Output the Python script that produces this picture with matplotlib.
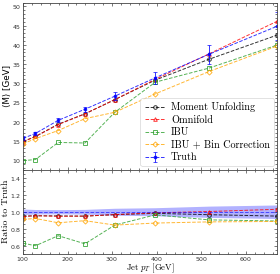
import matplotlib
matplotlib.use("Agg")
import matplotlib.pyplot as plt
import numpy as np
from matplotlib.ticker import AutoMinorLocator, MultipleLocator

plt.rcParams['mathtext.fontset'] = 'cm'
plt.rcParams['axes.formatter.use_mathtext'] = True

# ---- data ----
pt = [100, 128, 179, 239, 306, 397, 517, 670]
truth = [15.6, 16.9, 20.3, 23.2, 26.6, 31.4, 37.5, 44.8]
truth_err = [0.5, 0.45, 0.5, 0.65, 1.1, 1.5, 2.5, 3.6]
moment_unfolding = [14.8, 16.1, 19.3, 22.0, 25.7, 30.8, 36.2, 42.5]
omnifold = [14.7, 16.1, 19.2, 22.0, 25.7, 31.0, 37.6, 46.1]
ibu = [9.8, 10.1, 14.55, 14.4, 22.4, 30.25, 33.9, 39.9]
ibu_bc = [14.2, 15.55, 17.65, 20.75, 22.4, 27.2, 33.0, 39.65]

labels = ["Moment Unfolding", "Omnifold", "IBU", "IBU + Bin Correction", "Truth"]
colors = ["black", "red", "tab:green", "orange", "blue"]
markers = ["o", "^", "s", "D"]

x = np.array(pt)
t = np.array(truth)
te = np.array(truth_err)
series = [moment_unfolding, omnifold, ibu, ibu_bc]

fig = plt.figure(figsize=(2.8, 2.74), dpi=100)
L, R = 23/280, 277/280
top, mid, bot = 1-2.5/274, 1-169.5/274, 1-254/274
ax = fig.add_axes([L, mid, R-L, top-mid])
axr = fig.add_axes([L, bot, R-L, mid-bot], sharex=ax)

serif = 'cmr10'
handles = []
for vals, lab, c, m in zip(series, labels[:4], colors[:4], markers):
    h, = ax.plot(x, vals, ls='--', color=c, lw=0.7, marker=m, ms=2.6,
                 mfc='none', mew=0.7, label=lab, alpha=0.8)
    handles.append(h)
    axr.plot(x, np.array(vals)/t, ls='--', color=c, lw=0.7, marker=m, ms=2.6,
             mfc='none', mew=0.7, alpha=0.8)
eb = ax.errorbar(x, t, yerr=te, ls='--', color='blue', lw=0.7, marker='s', ms=2.0,
                 elinewidth=0.7, capsize=1.2, capthick=0.6, label=labels[4], alpha=0.8)
handles.append(eb)

axr.fill_between(x, 1 - te/t, 1 + te/t, color='blue', alpha=0.3, lw=0)
axr.plot(x, t/t, ls='--', color='blue', lw=0.7, alpha=0.6)

ax.set_xlim(100, 670)
ax.set_ylim(7.5, 51)
axr.set_ylim(0.5, 1.5)
ax.yaxis.set_major_locator(MultipleLocator(5))
axr.set_yticks([0.6, 0.8, 1.0, 1.2, 1.4])
axr.xaxis.set_major_locator(MultipleLocator(100))

for a in (ax, axr):
    a.xaxis.set_minor_locator(AutoMinorLocator())
    a.yaxis.set_minor_locator(AutoMinorLocator())
    a.tick_params(which='both', direction='in', top=True, right=True,
                  labelsize=4.5, labelcolor='#333333', color='#444444', width=0.5,
                  pad=1.2)
    a.tick_params(which='major', length=2.5)
    a.tick_params(which='minor', length=1.3)
    for s in a.spines.values():
        s.set_linewidth(0.6)
        s.set_color('#444444')
axr.tick_params(axis='x', which='both', pad=0.6)
plt.setp(ax.get_xticklabels(), visible=False)

ax.set_ylabel("\u27e8M\u27e9 [GeV]", fontsize=6.3, family='DejaVu Sans')
axr.set_ylabel("Ratio to Truth", fontsize=7.0, family=serif)
axr.set_xlabel(r"Jet $p_T$ [GeV]", fontsize=6.2, family=serif)
ax.yaxis.set_label_coords(-0.045, 0.5)
axr.yaxis.set_label_coords(-0.052, 0.5)
axr.xaxis.set_label_coords(0.5, -0.094)

leg = ax.legend(handles=handles, labels=labels, loc='lower right',
                prop={'family': serif, 'size': 7.3}, handlelength=2.0,
                borderaxespad=0.3, labelspacing=0.3, handletextpad=0.6,
                framealpha=0.8, edgecolor='#cccccc', fancybox=True)
leg.get_frame().set_linewidth(0.5)

fig.savefig("out.png", dpi=100)
